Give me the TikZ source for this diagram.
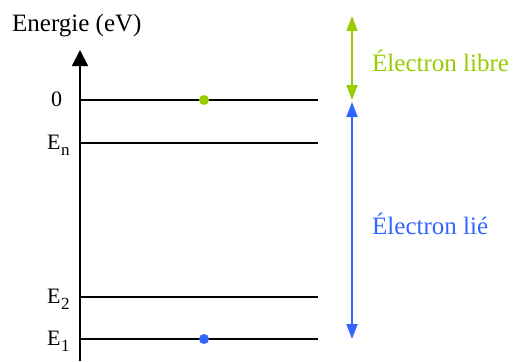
\documentclass[tikz,border=0pt]{standalone}
\usepackage{fontspec}
\setmainfont{Liberation Serif}
\newfontfamily\diagfont{Liberation Serif}
\usepackage{xcolor}
\usetikzlibrary{arrows.meta, positioning}
\definecolor{freegreen}{RGB}{153,204,0}
\definecolor{boundblue}{RGB}{51,102,255}
\newcommand{\levelE}[1]{E\kern0.5pt\raisebox{-6pt}{\fontsize{17}{17}\selectfont #1}}
\tikzset{
  level/.style={draw=black, line width=1.4pt},
  levellabel/.style={anchor=base west, inner sep=0pt, font=\diagfont\fontsize{22}{24}\selectfont},
  biglabel/.style={anchor=base west, inner sep=0pt, font=\diagfont\fontsize{25}{30}\selectfont},
  electron/.style={circle, inner sep=0pt, minimum size=10pt},
  spanarrow/.style={line width=2pt, {Triangle[width=11pt,length=15pt]}-{Triangle[width=11pt,length=15pt]}},
}

\begin{document}
\begin{tikzpicture}[x=1pt, y=-1pt]
  \useasboundingbox (0,0) rectangle (513,361);

  % Axis
  \coordinate (axisbottom) at (80,361);
  \coordinate (axistop) at (80,50);
  \draw[line width=1.8pt, -{Triangle[width=16pt,length=16pt]}] (axisbottom) -- (axistop);
  \node[biglabel] (axislabel) at (12,32) {Energie (eV)};

  % Levels
  \foreach \name/\y/\lx/\txt in {zero/100/51/0, en/143/47/\levelE{n}, etwo/297/47/\levelE{2}, eone/339/47/\levelE{1}} {
    \coordinate (\name-l) at (80,\y);
    \coordinate (\name-r) at (318,\y);
    \draw[level] (\name-l) -- (\name-r);
    \node[levellabel] (\name-lab) at (\lx,\y+6) {\txt};
  }

  % Electrons
  \node[electron, fill=freegreen] (freedot) at (204,100) {};
  \node[electron, fill=boundblue] (bounddot) at (204,339) {};

  % Free / bound ranges
  \coordinate (freetop) at (352,16);
  \coordinate (freebot) at (352,100);
  \coordinate (boundtop) at (352,102);
  \coordinate (boundbot) at (352,339);
  \draw[spanarrow, freegreen] (freetop) -- (freebot);
  \draw[spanarrow, boundblue] (boundtop) -- (boundbot);
  \node[biglabel, text=freegreen] (freelabel) at (372,71) {Électron libre};
  \node[biglabel, text=boundblue] (boundlabel) at (372,234) {Électron lié};
\end{tikzpicture}
\end{document}
